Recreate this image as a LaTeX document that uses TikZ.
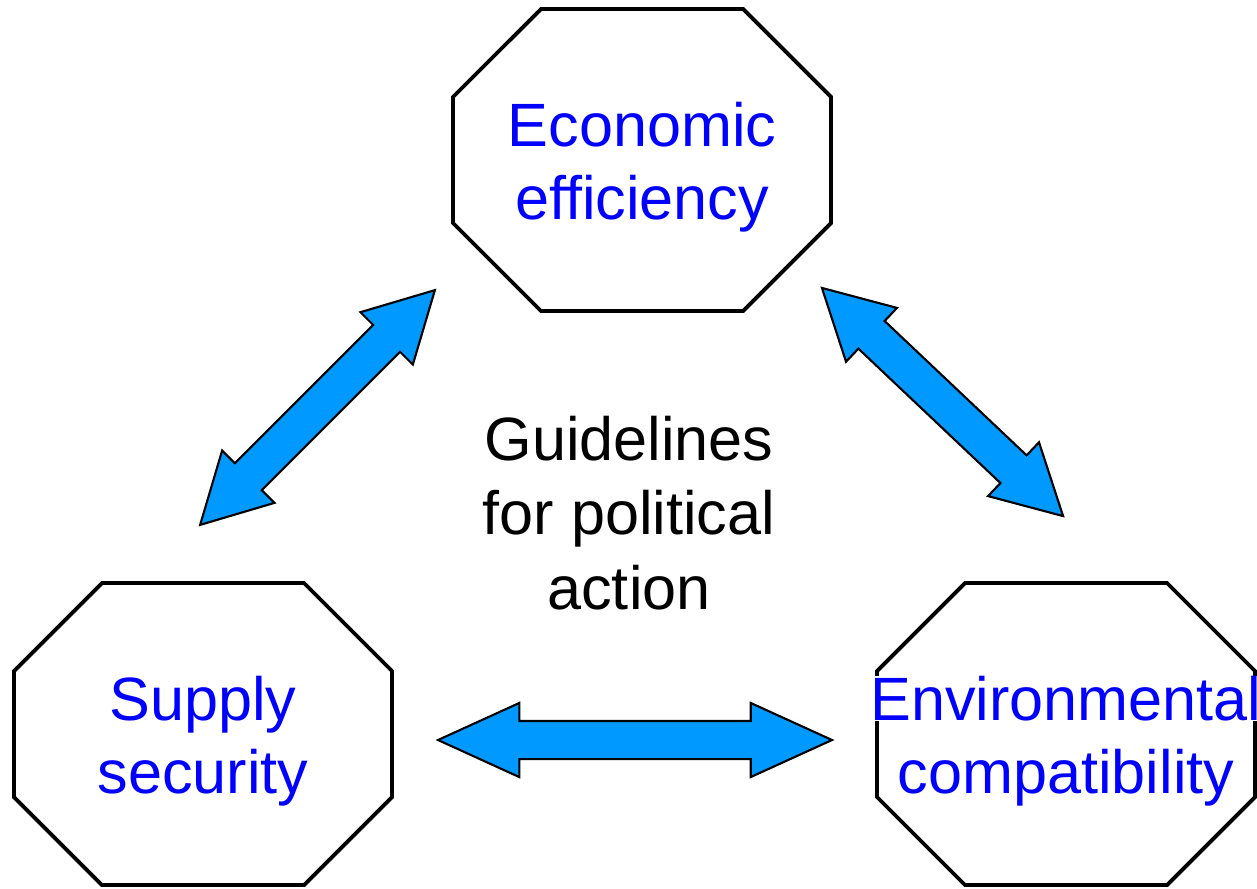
\documentclass[tikz,border=0pt]{standalone}
\usepackage{fontspec}
\setmainfont{Liberation Sans}
\usetikzlibrary{shapes.arrows}

\definecolor{frecciablu}{RGB}{0,153,255}
\setlength{\fboxsep}{0pt}

\tikzset{
    ottagono/.pic={
        \draw[line width=1.1pt] (-1.89,0.63) -- (-1.01,1.51) -- (1.01,1.51) -- (1.89,0.63)
            -- (1.89,-0.63) -- (1.01,-1.51) -- (-1.01,-1.51) -- (-1.89,-0.63) -- cycle;
    },
    voce/.style={align=center, text=blue, inner sep=0pt, yshift=-0.07cm,
        font=\fontsize{17.4}{20.8}\selectfont},
    freccia/.style={double arrow, draw=black, line width=0.6pt, fill=frecciablu,
        inner xsep=0pt, inner ysep=0.18cm, minimum width=0.72cm,
        double arrow head extend=0.18cm, sloped}
}

\begin{document}
\begin{tikzpicture}
    \useasboundingbox (0,0) rectangle (12.57,8.88);

    % centri degli ottagoni
    \coordinate (ec) at (6.42,7.28);
    \coordinate (sc) at (2.03,1.54);
    \coordinate (en) at (10.66,1.54);

    % Disegna gli ottagoni
    \foreach \centro in {ec,sc,en} \pic at (\centro) {ottagono};

    % Inserisci i testi
    \node[voce] (economia) at (ec) {Economic\\efficiency};
    \node[voce] (sicurezza) at (sc) {Supply\\security};
    \node[voce] (ambiente) at (en) {\colorbox{white}{Environmental}\\compatibility};
    \node[align=center, inner sep=0pt, font=\fontsize{17.4}{21.3}\selectfont] (linee) at (6.29,3.75)
        {Guidelines\\for political\\action};

    % punte delle frecce
    \coordinate (s1) at (2.00,3.63);
    \coordinate (s2) at (4.35,5.98);
    \coordinate (d1) at (8.22,6.00);
    \coordinate (d2) at (10.63,3.72);
    \coordinate (b1) at (4.38,1.48);
    \coordinate (b2) at (8.32,1.48);

    % Frecce doppie
    \path (s1) -- node[freccia, minimum height=3.32cm, double arrow tip angle=57] (fs) {} (s2);
    \path (d1) -- node[freccia, minimum height=3.32cm, double arrow tip angle=57] (fd) {} (d2);
    \path (b1) -- node[freccia, minimum height=3.94cm, double arrow tip angle=49] (fb) {} (b2);
\end{tikzpicture}
\end{document}
